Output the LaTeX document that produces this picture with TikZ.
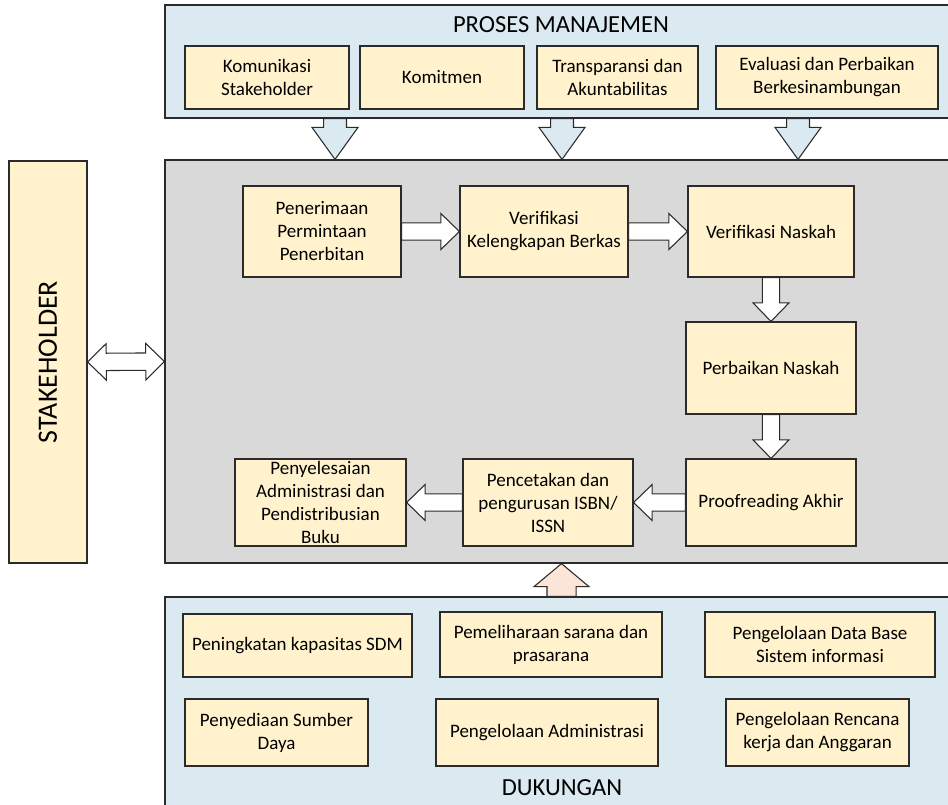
\documentclass[tikz,border=0pt]{standalone}
\usepackage{fontspec}
\setmainfont{Carlito}
\usetikzlibrary{calc,fit}
\definecolor{contblue}{HTML}{DBE9F1}
\definecolor{boxyel}{HTML}{FFF2CC}
\definecolor{procgray}{HTML}{D9D9D9}
\definecolor{peach}{HTML}{FBE5D6}
\definecolor{edgec}{HTML}{2B2B2B}
\newcommand\fsbox{\fontsize{14.25pt}{17.25pt}\selectfont}
\newcommand\fstitle{\fontsize{18.4pt}{22pt}\selectfont}
\newcommand\fsstake{\fontsize{21pt}{25pt}\selectfont}
% block arrow: #1 style, #2 from, #3 to, #4 head length, #5 head half width, #6 shaft half width
\newcommand\blockarrow[6]{%
  \coordinate (ba-b) at ($(#3)!#4!(#2)$);
  \draw[#1] ($(#2)!#6!90:(#3)$) -- ($(ba-b)!#6!-90:(#2)$) -- ($(ba-b)!#5!-90:(#2)$)
    -- (#3) -- ($(ba-b)!#5!90:(#2)$) -- ($(ba-b)!#6!90:(#2)$) -- ($(#2)!#6!-90:(#3)$) -- cycle;}
\newcommand\dblockarrow[6]{%
  \coordinate (ba-a) at ($(#2)!#4!(#3)$);
  \coordinate (ba-b) at ($(#3)!#4!(#2)$);
  \draw[#1] (#2) -- ($(ba-a)!#5!90:(#3)$) -- ($(ba-a)!#6!90:(#3)$) -- ($(ba-b)!#6!-90:(#2)$)
    -- ($(ba-b)!#5!-90:(#2)$) -- (#3) -- ($(ba-b)!#5!90:(#2)$) -- ($(ba-b)!#6!90:(#2)$)
    -- ($(ba-a)!#6!-90:(#3)$) -- ($(ba-a)!#5!-90:(#3)$) -- cycle;}
\tikzset{
  container/.style={draw=edgec, line width=0.9pt, inner sep=0pt},
  ybox/.style={draw=edgec, fill=boxyel, line width=0.9pt, inner sep=0pt, align=center, font=\fsbox},
  titletext/.style={font=\fstitle, inner sep=0pt},
  whitearrow/.style={draw=edgec, fill=white, line width=0.8pt, line join=miter},
  bluearrow/.style={draw=edgec, fill=contblue, line width=0.8pt, line join=miter},
  peacharrow/.style={draw=edgec, fill=peach, line width=0.8pt, line join=miter},
}
\begin{document}
\begin{tikzpicture}[x=0.75pt,y=-0.75pt]
\useasboundingbox (0,0) rectangle (948,804);
\clip (0,0) rectangle (948,804);
\fill[white] (0,0) rectangle (948,804);

% containers
\node[container, fill=contblue, fit={(165,5) (975,118)}] (topbox) {};
\node[container, fill=procgray, fit={(165,160) (975,563)}] (proc) {};
\node[container, fill=contblue, fit={(165,597) (975,830)}] (dukung) {};
\node[ybox, fit={(9,161) (87,563)}] (stake) {};
\node[font=\fsstake, rotate=90, inner sep=0pt] (staketext) at (stake.center) {STAKEHOLDER};

% titles
\node[titletext] (pmtitle) at (561,25) {PROSES MANAJEMEN};
\node[titletext] (dktitle) at (562,788) {DUKUNGAN};

% proses manajemen boxes
\node[ybox, fit={(185,46) (349,109)}] (pm1) {};
\node[font=\fsbox, align=center] at (pm1.center) {Komunikasi\\Stakeholder};
\node[ybox, fit={(360,46) (524,109)}] (pm2) {};
\node[font=\fsbox, align=center] at (pm2.center) {Komitmen};
\node[ybox, fit={(537,46) (698,109)}] (pm3) {};
\node[font=\fsbox, align=center] at (pm3.center) {Transparansi dan\\Akuntabilitas};
\node[ybox, fit={(716,46) (938,109)}] (pm4) {};
\node[font=\fsbox, align=center] at (pm4.center) {Evaluasi dan Perbaikan\\Berkesinambungan};

% process boxes
\node[ybox, fit={(243,186) (401,277)}] (pen) {};
\node[font=\fsbox, align=center] at (pen.center) {Penerimaan\\Permintaan\\Penerbitan};
\node[ybox, fit={(460,186) (628,277)}] (verk) {};
\node[font=\fsbox, align=center] at (verk.center) {Verifikasi\\Kelengkapan Berkas};
\node[ybox, fit={(688,186) (854,277)}] (vern) {};
\node[font=\fsbox, align=center] at (vern.center) {Verifikasi Naskah};
\node[ybox, fit={(686,322) (856,414)}] (perb) {};
\node[font=\fsbox, align=center] at (perb.center) {Perbaikan Naskah};
\node[ybox, fit={(686,459) (856,546)}] (proof) {};
\node[font=\fsbox, align=center] at (proof.center) {Proofreading Akhir};
\node[ybox, fit={(463,459) (633,546)}] (cetak) {};
\node[font=\fsbox, align=center] at (cetak.center) {Pencetakan dan\\pengurusan ISBN/\\ISSN};
\node[ybox, fit={(235,459) (406,546)}] (selesai) {};
\node[font=\fsbox, align=center] at (selesai.center) {Penyelesaian\\Administrasi dan\\Pendistribusian\\Buku};

% dukungan boxes
\node[ybox, fit={(183,614) (412,677)}] (dk1) {};
\node[font=\fsbox, align=center] at (dk1.center) {Peningkatan kapasitas SDM};
\node[ybox, fit={(440,612) (662,677)}] (dk2) {};
\node[font=\fsbox, align=center] at (dk2.center) {Pemeliharaan sarana dan\\prasarana};
\node[ybox, fit={(705,612) (935,677)}] (dk3) {};
\node[font=\fsbox, align=center] at (dk3.center) {Pengelolaan Data Base\\Sistem informasi};
\node[ybox, fit={(185,699) (368,766)}] (dk4) {};
\node[font=\fsbox, align=center] at (dk4.center) {Penyediaan Sumber\\Daya};
\node[ybox, fit={(436,699) (658,766)}] (dk5) {};
\node[font=\fsbox, align=center] at (dk5.center) {Pengelolaan Administrasi};
\node[ybox, fit={(726,699) (909,766)}] (dk6) {};
\node[font=\fsbox, align=center] at (dk6.center) {Pengelolaan Rencana\\kerja dan Anggaran};

% arrow positions
\coordinate (xa) at (335,0);
\coordinate (xb) at (562,0);
\coordinate (xc) at (798,0);
\coordinate (xu) at (561.5,0);

% down arrows from top
\blockarrow{bluearrow}{topbox.south -| xa}{proc.north -| xa}{24pt}{17.25pt}{8.6pt}
\blockarrow{bluearrow}{topbox.south -| xb}{proc.north -| xb}{24pt}{17.25pt}{8.6pt}
\blockarrow{bluearrow}{topbox.south -| xc}{proc.north -| xc}{24pt}{17.25pt}{8.6pt}

% up arrow from dukungan
\blockarrow{peacharrow}{dukung.north -| xu}{proc.south -| xu}{17.25pt}{20.6pt}{10.9pt}

% stakeholder double arrow
\dblockarrow{whitearrow}{stake.east}{proc.west}{14pt}{13.7pt}{6.5pt}

% process arrows
\blockarrow{whitearrow}{pen.east}{verk.west}{13.9pt}{13.5pt}{6.5pt}
\blockarrow{whitearrow}{verk.east}{vern.west}{13.9pt}{13.5pt}{6.5pt}
\blockarrow{whitearrow}{vern.south}{perb.north}{13.9pt}{13.5pt}{6.5pt}
\blockarrow{whitearrow}{perb.south}{proof.north}{13.9pt}{13.5pt}{6.5pt}
\blockarrow{whitearrow}{proof.west}{cetak.east}{13.9pt}{13.5pt}{6.5pt}
\blockarrow{whitearrow}{cetak.west}{selesai.east}{13.9pt}{13.5pt}{6.5pt}
\end{tikzpicture}
\end{document}
